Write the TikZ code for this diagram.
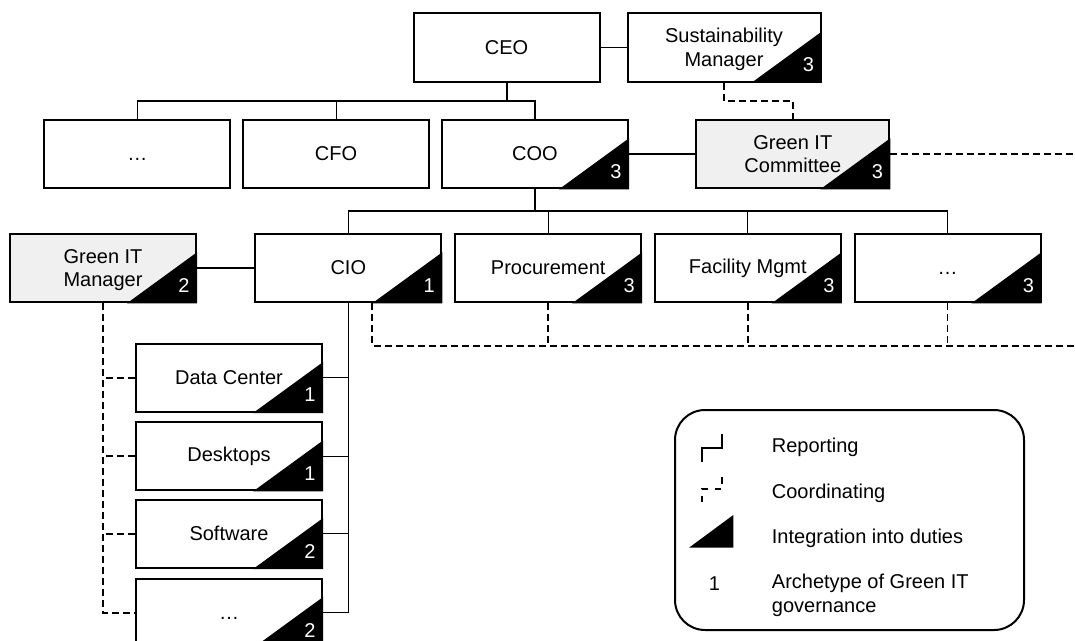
\documentclass[tikz,border=0pt]{standalone}
\usepackage{fontspec}
\setmainfont{Liberation Sans}
\usetikzlibrary{calc}

\definecolor{boxgray}{HTML}{F0F0F0}

% black corner wedge + archetype number
\newcommand{\duty}[2]{%
  \fill (#1.south east) -- ++(-70pt,0pt) -- ++(70pt,51pt) -- cycle;
  \node[num] (#1n) at ([xshift=-13pt,yshift=18pt]#1.south east) {#2};}

\begin{document}
\begin{tikzpicture}[
  x=1pt, y=-1pt,
  font=\fontsize{20}{23.5}\selectfont,
  orgbox/.style={draw=black, line width=2pt, rectangle, fill=white,
                 minimum width=186pt, minimum height=68.5pt, inner sep=0pt,
                 align=center},
  greenbox/.style={orgbox, fill=boxgray},
  twoline/.style={text depth=-4pt},
  num/.style={text=white, inner sep=0pt},
  report/.style={line width=1.2pt},
  reportthick/.style={line width=2pt},
  coord/.style={line width=1.8pt, dash pattern=on 7pt off 4pt},
  legtext/.style={anchor=base west, inner sep=0pt}
]
\useasboundingbox (0,0) rectangle (1075,640);

% ===== row heights =====
\def\yA{47.5}     % CEO row
\def\yB{154}      % COO row
\def\yC{268}      % CIO row
\def\xSub{229}    % IT units column

% ===== row 1 =====
\node[orgbox] (ceo) at (506.5, \yA) {CEO};
\node[orgbox, twoline, minimum width=193pt] (sm) at (724, \yA) {Sustainability\\Manager};

% ===== row 2 =====
\node[orgbox] (dotsA) at (137.3, \yB) {\vphantom{C}\dots};
\node[orgbox] (cfo) at (336.1, \yB) {CFO};
\node[orgbox] (coo) at (535, \yB) {COO};
\node[greenbox, twoline, minimum width=193pt] (gitc) at (792.8, \yB) {Green IT\\Committee};

% ===== row 3 =====
\node[greenbox, twoline] (gitm) at (103, \yC) {Green IT\\Manager};
\node[orgbox] (cio) at (348.3, \yC) {CIO};
\node[orgbox] (proc) at (548.2, \yC) {Procurement};
\node[orgbox] (fac) at (747.8, \yC) {Facility Mgmt};
\node[orgbox] (dotsB) at (947.5, \yC) {\vphantom{C}\dots};

% ===== IT units =====
\node[orgbox] (dc) at (\xSub, 377.8) {Data Center};
\node[orgbox] (desk) at (\xSub, 456.2) {Desktops};
\node[orgbox] (soft) at (\xSub, 533.8) {Software};
\node[orgbox] (dotsC) at (\xSub, 612.8) {\vphantom{C}\dots};

% ===== reporting lines =====
\coordinate (busA) at (0,101);
\coordinate (busB) at (0,211);
\coordinate (busC) at (0,345.7);
\coordinate (edge) at (1075,0);
\draw[reportthick] (ceo.south) -- (ceo.south |- busA);
\draw[report] (dotsA.north) -- (dotsA.north |- busA) -- (coo.north |- busA) -- (coo.north);
\draw[report] (cfo.north) -- (cfo.north |- busA);
\draw[report] (ceo.east) -- (sm.west);
\draw[report] (coo.east) -- (gitc.west);
\draw[reportthick] (coo.south) -- (coo.south |- busB);
\draw[report] (cio.north) -- (cio.north |- busB) -- (dotsB.north |- busB) -- (dotsB.north);
\draw[report] (proc.north) -- (proc.north |- busB);
\draw[report] (fac.north) -- (fac.north |- busB);
\draw[report] (gitm.east) -- (cio.west);
\draw[report] (cio.south) -- (cio.south |- dotsC.east) -- (dotsC.east);
\foreach \n in {dc,desk,soft}
  \draw[report] (\n.east) -- (\n.east -| cio.south);

% ===== coordinating lines =====
\coordinate (cioc) at ([xshift=-70pt]cio.south east);
\draw[coord] (sm.south) -- ++(0,18) -| (gitc.north);
\draw[coord] (gitc.east) -- (gitc.east -| edge);
\draw[coord] (cioc) -- (cioc |- busC) -- (edge |- busC);
\foreach \n in {proc,fac,dotsB}
  \draw[coord] (\n.south) -- (\n.south |- busC);
\draw[coord] (gitm.south) -- (gitm.south |- dotsC.west) -- (dotsC.west);
\foreach \n in {dc,desk,soft}
  \draw[coord] (\n.west) -- (\n.west -| gitm.south);

% ===== integration into duties =====
\duty{sm}{3}
\duty{coo}{3}
\duty{gitc}{3}
\duty{gitm}{2}
\duty{cio}{1}
\duty{proc}{3}
\duty{fac}{3}
\duty{dotsB}{3}
\duty{dc}{1}
\duty{desk}{1}
\duty{soft}{2}
\duty{dotsC}{2}

% ===== legend =====
\node[draw, line width=2pt, rounded corners=30pt, minimum width=349pt,
      minimum height=220pt] (legend) at (849.5, 520) {};
\draw[line width=2pt] (701.7,461.7) -- (701.7,447.7) -- (722.3,447.7) -- (722.3,434.3);
\draw[line width=2pt, dash pattern=on 6.5pt off 6.5pt]
  (701.7,502.3) -- (701.7,489.3) -- (722.3,489.3) -- (722.3,476);
\fill (689,547.7) -- (733.3,547.7) -- (733.3,515) -- cycle;
\node[inner sep=0pt] (lgone) at (714.3, 583.3) {1};
\node[legtext] (lgrep) at (771.7, 452.3) {Reporting};
\node[legtext] (lgcoo) at (771.7, 498.7) {Coordinating};
\node[legtext] (lgint) at (771.7, 543.7) {Integration into duties};
\node[anchor=north west, inner sep=0pt, align=left] (lgarc) at (771.7, 574)
  {Archetype of Green IT\\governance};

\end{tikzpicture}
\end{document}
